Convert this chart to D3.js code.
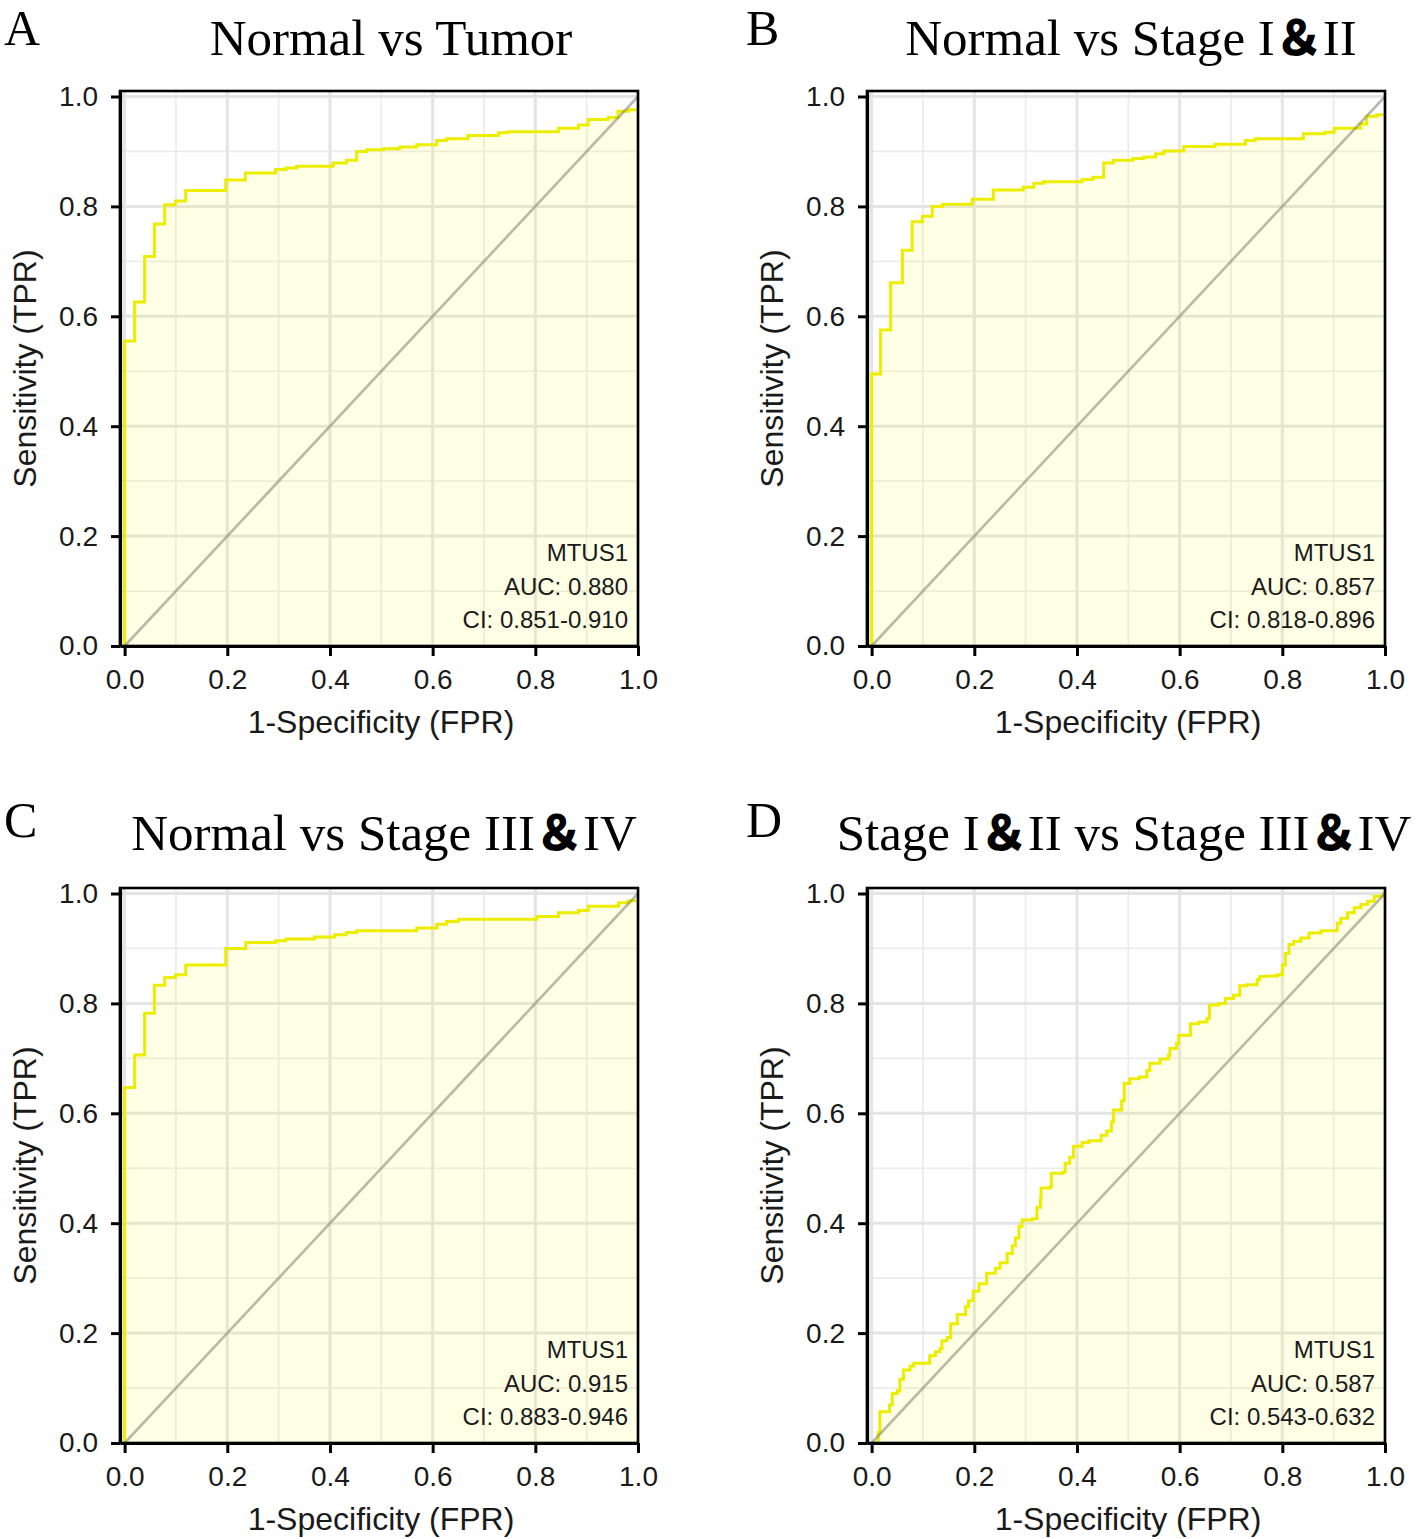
<!DOCTYPE html>
<html>
<head>
<meta charset="utf-8">
<script src="https://cdn.jsdelivr.net/npm/d3@7"></script>
<style>
  body { margin: 0; background: #fff; }
  text { font-family: "Liberation Sans", Arial, sans-serif; }
</style>
</head>
<body>
<svg width="1416" height="1539"></svg>
<script>
// ROC points: 1-specificity (fpr) and sensitivity (tpr)
var aFpr = [0, 0, 0.0195, 0.039, 0.058, 0.078, 0.099, 0.119, 0.197, 0.235, 0.294, 0.314, 0.335, 0.406, 0.432, 0.452, 0.471, 0.504, 0.536, 0.569, 0.608, 0.627, 0.669, 0.728, 0.747, 0.845, 0.884, 0.903, 0.942, 0.961, 0.981, 1.0];
var aTpr = [0, 0.555, 0.626, 0.709, 0.768, 0.803, 0.810, 0.829, 0.848, 0.861, 0.867, 0.870, 0.873, 0.879, 0.884, 0.900, 0.903, 0.905, 0.908, 0.912, 0.920, 0.923, 0.929, 0.934, 0.936, 0.942, 0.948, 0.958, 0.962, 0.973, 0.976, 0.976];

var bFpr = [0, 0, 0.0175, 0.037, 0.060, 0.079, 0.099, 0.118, 0.138, 0.196, 0.237, 0.295, 0.316, 0.335, 0.410, 0.431, 0.452, 0.471, 0.509, 0.530, 0.553, 0.569, 0.608, 0.669, 0.728, 0.747, 0.841, 0.883, 0.901, 0.952, 0.964, 0.984, 1.0];
var bTpr = [0, 0.495, 0.575, 0.661, 0.720, 0.772, 0.782, 0.800, 0.804, 0.813, 0.830, 0.835, 0.842, 0.845, 0.849, 0.853, 0.879, 0.884, 0.887, 0.890, 0.896, 0.901, 0.909, 0.913, 0.920, 0.923, 0.932, 0.935, 0.942, 0.950, 0.964, 0.967, 0.967];

var cFpr = [0, 0, 0.0195, 0.039, 0.058, 0.078, 0.099, 0.119, 0.197, 0.236, 0.294, 0.314, 0.370, 0.409, 0.432, 0.452, 0.569, 0.608, 0.627, 0.650, 0.803, 0.845, 0.884, 0.903, 0.962, 0.981, 1.0];
var cTpr = [0, 0.647, 0.706, 0.782, 0.833, 0.847, 0.852, 0.870, 0.900, 0.911, 0.914, 0.917, 0.921, 0.925, 0.929, 0.932, 0.937, 0.944, 0.949, 0.953, 0.958, 0.965, 0.969, 0.977, 0.983, 0.987, 0.987];

var dFpr = [0, 0.013, 0.016, 0.035, 0.040, 0.050, 0.055, 0.062, 0.075, 0.082, 0.113, 0.124, 0.133, 0.137, 0.147, 0.154, 0.167, 0.183, 0.189, 0.198, 0.209, 0.224, 0.241, 0.250, 0.264, 0.274, 0.280, 0.287, 0.293, 0.313, 0.322, 0.329, 0.330, 0.348, 0.350, 0.373, 0.377, 0.386, 0.393, 0.410, 0.423, 0.447, 0.458, 0.467, 0.471, 0.487, 0.492, 0.503, 0.521, 0.536, 0.542, 0.562, 0.578, 0.581, 0.594, 0.598, 0.621, 0.637, 0.653, 0.658, 0.676, 0.689, 0.705, 0.717, 0.731, 0.751, 0.756, 0.770, 0.790, 0.800, 0.806, 0.813, 0.822, 0.836, 0.852, 0.875, 0.907, 0.914, 0.927, 0.940, 0.953, 0.966, 0.979, 0.997, 1.0];
var dTpr = [0, 0.019, 0.057, 0.069, 0.090, 0.095, 0.116, 0.133, 0.140, 0.145, 0.159, 0.166, 0.172, 0.186, 0.192, 0.217, 0.234, 0.248, 0.259, 0.276, 0.290, 0.309, 0.318, 0.328, 0.345, 0.359, 0.373, 0.394, 0.406, 0.408, 0.429, 0.443, 0.464, 0.467, 0.491, 0.493, 0.509, 0.520, 0.540, 0.547, 0.550, 0.560, 0.568, 0.584, 0.606, 0.623, 0.654, 0.663, 0.666, 0.678, 0.691, 0.699, 0.705, 0.718, 0.727, 0.742, 0.763, 0.766, 0.773, 0.797, 0.800, 0.809, 0.815, 0.832, 0.834, 0.843, 0.849, 0.850, 0.852, 0.870, 0.891, 0.907, 0.913, 0.919, 0.928, 0.932, 0.946, 0.955, 0.965, 0.974, 0.980, 0.986, 0.995, 1.0, 1.0];

var titles = ["Normal vs Tumor", "Normal vs Stage I&II", "Normal vs Stage III&IV", "Stage I&II vs Stage III&IV"];
var letters = ["A", "B", "C", "D"];
var geneName = "MTUS1";
var aucValues = ["0.880", "0.857", "0.915", "0.587"];
var ciValues = ["0.851-0.910", "0.818-0.896", "0.883-0.946", "0.543-0.632"];
var majorTicks = [0, 0.2, 0.4, 0.6, 0.8, 1.0];
var minorTicks = [0.1, 0.3, 0.5, 0.7, 0.9];
var xLabel = "1-Specificity (FPR)";
var yLabel = "Sensitivity (TPR)";

document.addEventListener("DOMContentLoaded", function() {
  var svg = d3.select("svg");
  var pw = 518, ph = 555;

  // where each panel sits on the page
  var layout = [
    { left: 120, top: 91,  titleX: 391,  titleY: 55,  letterX: 4,   letterY: 45 },
    { left: 867, top: 91,  titleX: 1131, titleY: 55,  letterX: 746, letterY: 45 },
    { left: 120, top: 888, titleX: 384,  titleY: 850, letterX: 4,   letterY: 837 },
    { left: 867, top: 888, titleX: 1124, titleY: 850, letterX: 746, letterY: 837 }
  ];
  var fprs = [aFpr, bFpr, cFpr, dFpr];
  var tprs = [aTpr, bTpr, cTpr, dTpr];

  layout.forEach(function(p, i) {
    var pts = fprs[i].map(function(f, j) { return { fpr: f, tpr: tprs[i][j] }; });

    var x = d3.scaleLinear().domain([-0.009, 1]).range([p.left, p.left + pw]);
    var y = d3.scaleLinear().domain([0, 1.01]).range([p.top + ph, p.top]);

    var g = svg.append("g");

    // grid
    g.selectAll(".minx").data(minorTicks).enter().append("line")
      .attr("x1", d => x(d)).attr("x2", d => x(d))
      .attr("y1", p.top).attr("y2", p.top + ph)
      .attr("stroke", "#ebebeb").attr("stroke-width", 1.7);
    g.selectAll(".miny").data(minorTicks).enter().append("line")
      .attr("y1", d => y(d)).attr("y2", d => y(d))
      .attr("x1", p.left).attr("x2", p.left + pw)
      .attr("stroke", "#ebebeb").attr("stroke-width", 1.7);
    g.selectAll(".majx").data(majorTicks).enter().append("line")
      .attr("x1", d => x(d)).attr("x2", d => x(d))
      .attr("y1", p.top).attr("y2", p.top + ph)
      .attr("stroke", "#e4e4e4").attr("stroke-width", 3);
    g.selectAll(".majy").data(majorTicks).enter().append("line")
      .attr("y1", d => y(d)).attr("y2", d => y(d))
      .attr("x1", p.left).attr("x2", p.left + pw)
      .attr("stroke", "#e4e4e4").attr("stroke-width", 3);

    // area under the curve
    var area = d3.area()
      .curve(d3.curveStepAfter)
      .x(d => x(d.fpr))
      .y0(y(0))
      .y1(d => y(d.tpr));
    g.append("path").datum(pts)
      .attr("d", area)
      .attr("fill", "#ffff00")
      .attr("fill-opacity", 0.1);

    var line = d3.line()
      .curve(d3.curveStepAfter)
      .x(d => x(d.fpr))
      .y(d => y(d.tpr));
    g.append("path").datum(pts)
      .attr("d", line)
      .attr("fill", "none")
      .attr("stroke", "#eded00")
      .attr("stroke-width", 3);

    // reference diagonal
    g.append("line")
      .attr("x1", x(0)).attr("y1", y(0))
      .attr("x2", x(1)).attr("y2", y(1))
      .attr("stroke", "#808070")
      .attr("stroke-opacity", 0.55)
      .attr("stroke-width", 2.6);

    // panel border
    g.append("rect")
      .attr("x", p.left).attr("y", p.top)
      .attr("width", pw).attr("height", ph)
      .attr("fill", "none").attr("stroke", "#000").attr("stroke-width", 2.6);

    var fmt = d3.format(".1f");
    var xAxis = d3.axisBottom(x).tickValues(majorTicks).tickFormat(fmt).tickSize(10).tickSizeOuter(0).tickPadding(13);
    var yAxis = d3.axisLeft(y).tickValues(majorTicks).tickFormat(fmt).tickSize(9).tickSizeOuter(0).tickPadding(13);

    var xg = g.append("g").attr("transform", "translate(0," + (p.top + ph) + ")").call(xAxis);
    var yg = g.append("g").attr("transform", "translate(" + p.left + ",0)").call(yAxis);
    [xg, yg].forEach(function(ax) {
      ax.select(".domain").attr("stroke", "#000").attr("stroke-width", 3.2);
      ax.selectAll(".tick line").attr("stroke", "#000").attr("stroke-width", 3);
      ax.selectAll(".tick text")
        .attr("fill", "#1a1a1a")
        .style("font-size", "28px")
        .style("font-family", "'Liberation Sans', Arial, sans-serif");
    });

    // axis titles
    g.append("text")
      .attr("x", p.left + pw / 2 + 2).attr("y", p.top + ph + 87)
      .attr("text-anchor", "middle")
      .attr("fill", "#1a1a1a")
      .style("font-size", "32px")
      .text(xLabel);
    g.append("text")
      .attr("transform", "translate(" + (p.left - 84) + "," + (p.top + ph / 2) + ") rotate(-90)")
      .attr("text-anchor", "middle")
      .attr("fill", "#1a1a1a")
      .style("font-size", "32px")
      .text(yLabel);

    // AUC annotation
    var notes = [geneName, "AUC: " + aucValues[i], "CI: " + ciValues[i]];
    g.selectAll(".note").data(notes).enter().append("text")
      .attr("x", p.left + pw - 10)
      .attr("y", (d, j) => p.top + ph - 85 + j * 33.5)
      .attr("text-anchor", "end")
      .attr("fill", "#1a1a1a")
      .style("font-size", "24px")
      .text(d => d);

    // title, the ampersand drawn in a heavy CJK face like the original
    var t = svg.append("text")
      .attr("x", p.titleX).attr("y", p.titleY)
      .attr("text-anchor", "middle")
      .style("font-family", "'Liberation Serif', 'Times New Roman', serif")
      .style("font-size", "51px")
      .attr("fill", "#000");
    titles[i].split("&").forEach(function(part, k) {
      if (k > 0) {
        t.append("tspan")
          .style("font-family", "'Noto Sans CJK SC', sans-serif")
          .style("font-weight", "900")
          .style("font-size", "48px")
          .text("\uFF06");
      }
      t.append("tspan").text(part);
    });

    svg.append("text")
      .attr("x", p.letterX).attr("y", p.letterY)
      .style("font-family", "'Liberation Serif', 'Times New Roman', serif")
      .style("font-size", "50px")
      .attr("fill", "#000")
      .text(letters[i]);
  });
});
</script>
</body>
</html>
